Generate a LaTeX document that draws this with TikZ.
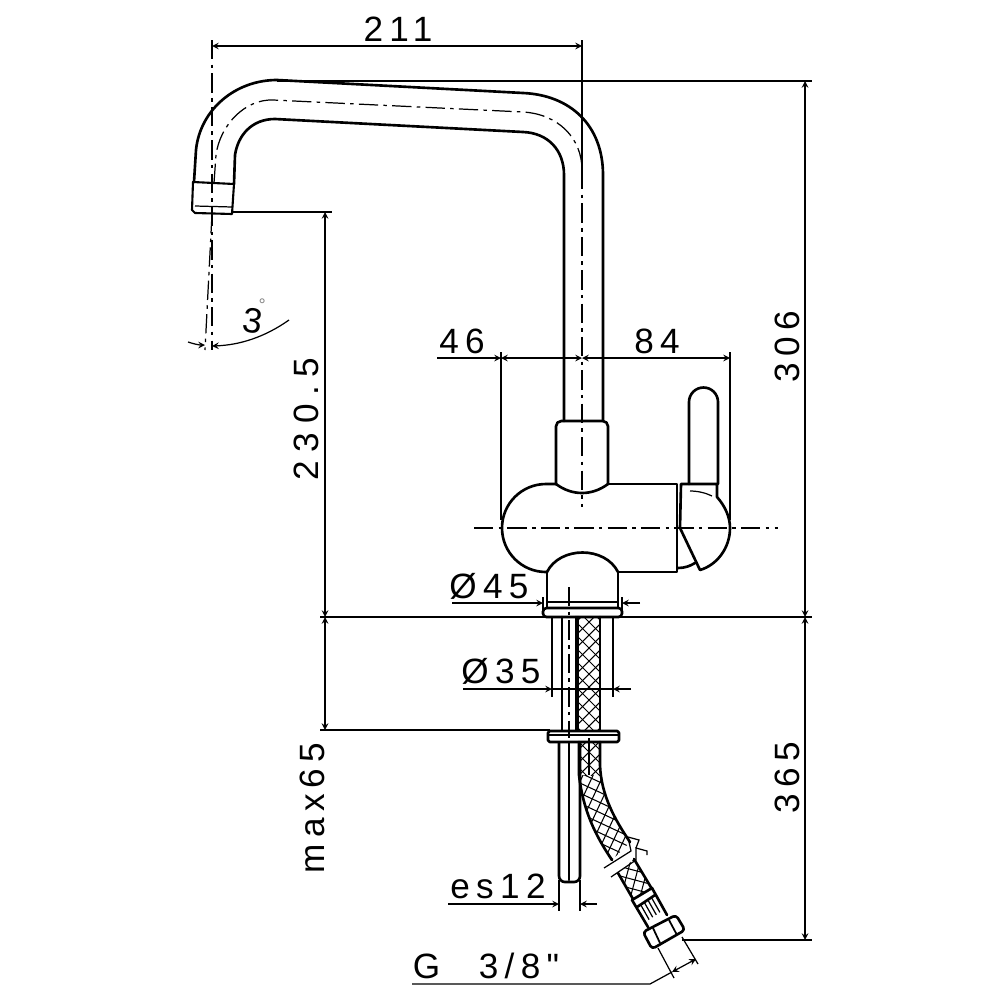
\documentclass[tikz,border=0pt]{standalone}
\usepackage{fontspec}
\usepackage{tikz}
\usetikzlibrary{arrows}
\newfontfamily\dimfont[LetterSpace=18]{Liberation Sans}
\newfontfamily\widefont[LetterSpace=25]{Liberation Sans}
\tikzstyle{outline} = [line width=1.5pt, line join=round, line cap=round]
\tikzstyle{thin line} = [line width=0.7pt]
\tikzstyle{center line} = [line width=0.7pt, dash pattern=on 11pt off 3pt on 2pt off 3pt]
\tikzstyle{hatch} = [line width=0.6pt]
\tikzstyle{arrow} = [line width=0.7pt, ->, >=stealth]
\tikzstyle{label} = [inner sep=0pt, font=\dimfont\fontsize{20}{20}\selectfont]
\newcommand{\hosehatch}[3]{
	\begin{scope}[shift={(#1,#2)}, rotate=#3]
		\foreach \k in {-18,...,18} {
			\draw [hatch] (-220,{\k*13-220}) -- (220,{\k*13+220});
			\draw [hatch] (-220,{\k*13+220}) -- (220,{\k*13-220});
		}
	\end{scope}
}

\begin{document}
\begin{tikzpicture}[x=0.2mm, y=-0.2mm]
	\useasboundingbox (0,0) rectangle (1000,1000);
	\fill [white] (0,0) rectangle (1000,1000);

	% hose mesh
	\begin{scope}
		\clip (578,617) rectangle (600,775);
		\hosehatch{589}{700}{0}
	\end{scope}
	\begin{scope}
		\clip (578,775) .. controls (582,810) and (595,835) .. (612,860) -- (630,842) .. controls (615,820) and (601,795) .. (600,765) -- (600,775) -- cycle;
		\hosehatch{605}{815}{20}
	\end{scope}
	\begin{scope}
		\clip (618,873) -- (633,899) -- (652,889) -- (634,859) -- cycle;
		\hosehatch{635}{880}{30}
	\end{scope}

	% spout
	\draw [outline] (194,182) -- (196,150) .. controls (200,110) and (235,80) .. (277,80) -- (523,93) .. controls (570,95) and (603,125) .. (603,175) -- (603,421);
	\draw [outline] (234,184) -- (235,155) .. controls (238,135) and (252,119) .. (275,119) -- (523,132) .. controls (548,133) and (564,150) .. (564,175) -- (564,421);
	\draw [center line] (214,183) -- (216,155) .. controls (220,125) and (245,99) .. (273,100) -- (523,112) .. controls (558,114) and (582,138) .. (582,170);
	\draw [outline, line width=1.2pt] (193,182) -- (234,184) -- (232,214) -- (195,213) -- (192,210) -- cycle;
	\draw [thin line] (195,206) -- (232,207);

	% body
	\draw [outline, rounded corners=3pt] (556,484) -- (556,421) -- (608,421) -- (608,484);
	\draw [outline] (556,484) .. controls (572,496) and (592,496) .. (608,484);
	\draw [outline] (556,484) -- (546,484) arc (-90:-270:44) -- (547,572);
	\draw [outline] (608,484) -- (677,484) -- (677,572) -- (618,572);
	\draw [outline] (547,572) .. controls (560,546) and (605,546) .. (618,572);
	\draw [outline] (547,572) -- (547,608);
	\draw [outline] (618,572) -- (618,608);
	\draw [outline, rounded corners=2pt, fill=white] (543,608) rectangle (622,617);
	\draw [thin line] (546,602) -- (619,602);

	% handle
	\draw [outline] (689,484) -- (689,402) arc (180:360:14.5) -- (718,484);
	\draw [outline] (680,528) -- (681,484) -- (717,484) -- (717,497) .. controls (725,506) and (730,517) .. (730,528) .. controls (730,548) and (717,565) .. (700,570) -- cycle;
	\draw [outline] (678,568) .. controls (685,568) and (690,566) .. (695,563);
	\draw [thin line] (690,491) .. controls (698,491) and (706,493) .. (712,496);

	% pipes below deck
	\draw [outline] (562,617) -- (562,731);
	\draw [outline] (576,617) -- (576,731);
	\draw [outline] (578,617) -- (578,731);
	\draw [outline] (600,617) -- (600,731);
	\draw [outline] (559,742) -- (559,876) arc (180:90:6) -- (569,882) -- (574,882) arc (90:0:6) -- (580,742);
	\draw [outline] (569,742) -- (569,880);
	\draw [outline, fill=white, rounded corners=1pt] (548,731) rectangle (619,742);
	\draw [thin line] (548,735) -- (619,735);
	\draw [outline] (579,742) -- (579,775) .. controls (583,810) and (595,835) .. (612,860);
	\draw [outline] (600,742) -- (600,765) .. controls (601,795) and (615,820) .. (630,842);
	\draw [center line] (569,587) -- (569,738);
	\draw [thin line] (589,738) -- (589,775);

	% hose break
	\draw [thin line] (604,868) -- (631,851) -- (628,837) -- (639,840) -- (636,848);
	\draw [thin line] (611,877) -- (636,860) -- (636,848) -- (647,851) -- (647,855);

	% hose end and nut
	\draw [outline] (618,873) -- (633,899);
	\draw [outline] (634,859) -- (652,889);
	\draw [outline] (632,900) -- (652,888) -- (667,915);
	\draw [outline] (632,900) -- (648,927);
	\draw [outline] (637,907) -- (655,895);
	\foreach \t in {0.2,0.4,0.6,0.8} {
		\draw [thin line] ({637+18*\t},{907-12*\t}) -- ++(8.5,15);
	}
	\draw [outline, rounded corners=2pt, fill=white] (643,932) -- (652,949) -- (685,930) -- (676,915) -- cycle;
	\draw [thin line, line width=1pt] (653,928) -- (660,943);
	\draw [thin line, line width=1pt] (669,920) -- (677,935);

	% center lines
	\draw [center line] (474,528) -- (778,528);
	\draw [center line] (582,170) -- (582,507);
	\draw [center line] (212,40) -- (212,350);
	\draw [center line] (212,214) -- (205,350);

	% dimension 211
	\draw [thin line] (582,40) -- (582,170);
	\draw [arrow, <->] (212,46) -- (582,46);
	\node (len211) [label] at (398,29) {211};

	% dimensions 306 and 365
	\draw [thin line] (277,81) -- (812,81);
	\draw [thin line] (320,617) -- (812,617);
	\draw [thin line] (682,940) -- (812,940);
	\draw [arrow, <->] (805,81) -- (805,617);
	\draw [arrow, <->] (805,617) -- (805,940);
	\node (len306) [label, rotate=90] at (787,347) {306};
	\node (len365) [label, rotate=90] at (787,778) {365};

	% dimensions 230.5 and max65
	\draw [thin line] (232,212) -- (332,212);
	\draw [thin line] (320,730) -- (550,730);
	\draw [arrow, <->] (325,212) -- (325,617);
	\draw [arrow, <->] (325,617) -- (325,730);
	\node (len230) [label, font=\widefont\fontsize{20}{20}\selectfont, rotate=90] at (306,419) {230.5};
	\node (lenmax) [label, rotate=90] at (312,808) {max65};

	% dimensions 46 and 84
	\draw [thin line] (501,352) -- (501,520);
	\draw [thin line] (730,352) -- (730,520);
	\draw [arrow, <-] (501,358) -- (437,358);
	\draw [arrow, <->] (501,358) -- (582,358);
	\draw [arrow, <->] (582,358) -- (730,358);
	\node (len46) [label] at (462,341) {46};
	\node (len84) [label] at (657,341) {84};

	% diameters
	\draw [thin line] (543,597) -- (543,610);
	\draw [thin line] (622,597) -- (622,610);
	\draw [arrow] (452,603) -- (543,603);
	\draw [arrow] (640,603) -- (622,603);
	\node (dia45) [label] at (489,586) {Ø45};
	\draw [thin line] (552,617) -- (552,697);
	\draw [thin line] (613,617) -- (613,697);
	\draw [arrow] (463,689) -- (552,689);
	\draw [arrow] (631,689) -- (613,689);
	\draw [thin line] (552,689) -- (613,689);
	\node (dia35) [label] at (501,671) {Ø35};
	\draw [thin line] (559,880) -- (559,911);
	\draw [thin line] (580,880) -- (580,911);
	\draw [arrow] (448,904) -- (559,904);
	\draw [arrow] (597,904) -- (580,904);
	\node (es12) [label] at (498,886) {es12};

	% thread
	\draw [thin line] (658,948) -- (674,978);
	\draw [thin line] (682,937) -- (698,964);
	\draw [thin line] (412,984) -- (650,984) -- (672,972);
	\draw [arrow, <->] (672,972) -- (696,959);
	\node (thread) [label] at (486,966) {G\hspace{22pt}3/8"};

	% angle
	\draw [arrow] (188,342) .. controls (194,344) and (199,345) .. (205,345);
	\draw [arrow] (289,320) .. controls (265,337) and (240,345) .. (212,346);
	\node (ang3) [label, rotate=-8] at (254,316) {3\hspace{-4pt}\raisebox{13pt}{\color{gray}\fontsize{10}{10}\selectfont °}};
\end{tikzpicture}
\end{document}
